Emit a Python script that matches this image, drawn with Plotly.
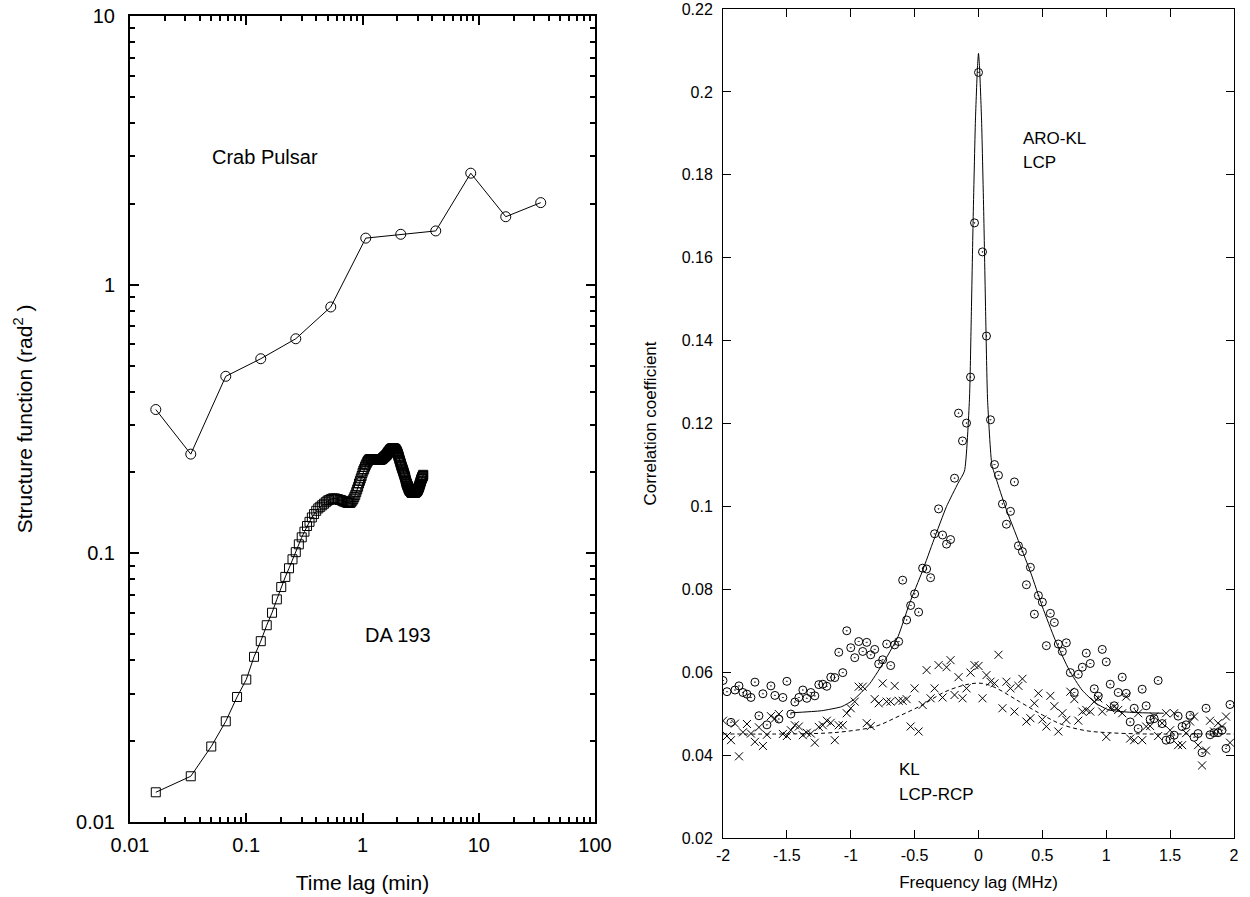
import numpy as np
import plotly.graph_objects as go

FONT = "Liberation Sans, Arial, Helvetica, sans-serif"

# ---------------- Left panel data ----------------
crab_lag = [0.01667, 0.03333, 0.06667, 0.1333, 0.2667, 0.5333, 1.0667, 2.133, 4.267, 8.533, 17.07, 34.13]
crab_sf = [0.343, 0.234, 0.456, 0.530, 0.629, 0.826, 1.49, 1.54, 1.585, 2.60, 1.79, 2.02]

da_lag = np.arange(1, 201) / 60.0
da_sf = [
    0.0129, 0.0148, 0.0191, 0.0237, 0.0292, 0.0339, 0.0412, 0.0471, 0.054, 0.0601, 0.0674, 0.0749, 0.0817, 0.088, 0.095, 0.101,
    0.108, 0.1147, 0.1204, 0.1264, 0.131, 0.136, 0.140, 0.144,
    0.147, 0.149, 0.151, 0.153, 0.155, 0.157, 0.158, 0.159,
    0.160, 0.160, 0.160, 0.159, 0.159, 0.158, 0.158, 0.157,
    0.156, 0.156, 0.155, 0.1545, 0.154, 0.154, 0.154, 0.155,
    0.157, 0.159, 0.162, 0.165, 0.169, 0.173, 0.177, 0.182,
    0.186, 0.190, 0.194, 0.199, 0.203, 0.206, 0.210, 0.213,
    0.216, 0.219, 0.221, 0.223, 0.224, 0.224, 0.224, 0.224,
    0.224, 0.223, 0.223, 0.223, 0.223, 0.223, 0.223, 0.223,
    0.223, 0.223, 0.223, 0.223, 0.223, 0.223, 0.224, 0.224,
    0.225, 0.226, 0.227, 0.228, 0.229, 0.230, 0.231, 0.232,
    0.233, 0.235, 0.236, 0.238, 0.239, 0.240, 0.242, 0.243,
    0.244, 0.245, 0.245, 0.246, 0.246, 0.246, 0.246, 0.246,
    0.245, 0.245, 0.244, 0.243, 0.241, 0.240, 0.238, 0.236,
    0.234, 0.231, 0.229, 0.226, 0.223, 0.221, 0.218, 0.216,
    0.213, 0.211, 0.209, 0.207, 0.205, 0.203, 0.201, 0.199,
    0.197, 0.195, 0.193, 0.191, 0.188, 0.186, 0.184, 0.182,
    0.181, 0.179, 0.178, 0.177, 0.175, 0.174, 0.173, 0.172,
    0.171, 0.171, 0.170, 0.170, 0.169, 0.169, 0.168, 0.168,
    0.168, 0.168, 0.168, 0.168, 0.168, 0.168, 0.168, 0.168,
    0.168, 0.168, 0.169, 0.169, 0.169, 0.170, 0.170, 0.170,
    0.171, 0.172, 0.172, 0.173, 0.174, 0.175, 0.176, 0.177,
    0.178, 0.180, 0.181, 0.182, 0.184, 0.185, 0.186, 0.188,
    0.189, 0.190, 0.191, 0.192, 0.193, 0.194, 0.195, 0.196,
]

left_xticks = [0.01, 0.1, 1, 10, 100]
left_xticktext = ["0.01", "0.1", "1", "10", "100"]
left_yticks = [0.01, 0.1, 1, 10]
left_yticktext = ["0.01", "0.1", "1", "10"]

# ---------------- Right panel data ----------------
freq_lag = -2 + np.arange(128) / 32.0
aro_kl_lcp = [
    0.0580, 0.0553, 0.0479, 0.0557, 0.0567, 0.0551, 0.0547, 0.0539, 0.0576, 0.0495,
    0.0548, 0.0473, 0.0567, 0.0544, 0.0487, 0.0539, 0.0578, 0.0499, 0.0528, 0.0539,
    0.0557, 0.0537, 0.0551, 0.0543, 0.0570, 0.0571, 0.0566, 0.0588, 0.0587, 0.0648,
    0.0599, 0.0700, 0.0659, 0.0635, 0.0674, 0.0650, 0.0672, 0.0642, 0.0655, 0.0620,
    0.0630, 0.0668, 0.0616, 0.0666, 0.0674, 0.0822, 0.0726, 0.0761, 0.0789, 0.0745,
    0.0851, 0.0849, 0.0828, 0.0934, 0.0994, 0.0931, 0.0909, 0.0920, 0.1068, 0.1225,
    0.1158, 0.1201, 0.1312, 0.1684, 0.2047, 0.1614, 0.1411, 0.1209, 0.1101, 0.1075,
    0.1006, 0.0957, 0.0988, 0.1059, 0.0905, 0.0891, 0.0811, 0.0853, 0.0740, 0.0785,
    0.0769, 0.0664, 0.0742, 0.0720, 0.0668, 0.0650, 0.0671, 0.0599, 0.0551, 0.0595,
    0.0612, 0.0646, 0.0621, 0.0560, 0.0542, 0.0655, 0.0625, 0.0571, 0.0519, 0.0551,
    0.0588, 0.0549, 0.0480, 0.0513, 0.0464, 0.0559, 0.0519, 0.0486, 0.0488, 0.0580,
    0.0476, 0.0436, 0.0438, 0.0448, 0.0494, 0.0469, 0.0473, 0.0496, 0.0443, 0.0452,
    0.0406, 0.0513, 0.0449, 0.0454, 0.0454, 0.0460, 0.0416, 0.0522,
]
kl_lcp_rcp = [
    0.0483, 0.0446, 0.0436, 0.0476, 0.0397, 0.0455, 0.0475, 0.0452, 0.0432, 0.0467,
    0.0422, 0.0449, 0.0494, 0.0488, 0.0499, 0.0451, 0.0446, 0.0460, 0.0472, 0.0469,
    0.0448, 0.0454, 0.0452, 0.0430, 0.0468, 0.0472, 0.0483, 0.0478, 0.0436, 0.0472,
    0.0472, 0.0501, 0.0513, 0.0529, 0.0565, 0.0565, 0.0477, 0.0470, 0.0535, 0.0525,
    0.0573, 0.0529, 0.0529, 0.0567, 0.0531, 0.0531, 0.0535, 0.0469, 0.0561, 0.0457,
    0.0521, 0.0605, 0.0537, 0.0561, 0.0617, 0.0539, 0.0612, 0.0629, 0.0545, 0.0588,
    0.0537, 0.0561, 0.0599, 0.0617, 0.0615, 0.0537, 0.0593, 0.0577, 0.0573, 0.0642,
    0.0513, 0.0577, 0.0561, 0.0505, 0.0567, 0.0584, 0.0481, 0.0489, 0.0525, 0.0549,
    0.0486, 0.0469, 0.0543, 0.0518, 0.0457, 0.0501, 0.0485, 0.0553, 0.0535, 0.0483,
    0.0505, 0.0509, 0.0505, 0.0529, 0.0537, 0.0505, 0.0444, 0.0513, 0.0517, 0.0509,
    0.0501, 0.0541, 0.0440, 0.0436, 0.0501, 0.0436, 0.0469, 0.0470, 0.0493, 0.0446,
    0.0477, 0.0501, 0.0460, 0.0501, 0.0424, 0.0424, 0.0453, 0.0481, 0.0493, 0.0424,
    0.0375, 0.0411, 0.0483, 0.0457, 0.0477, 0.0469, 0.0493, 0.0430,
]

# fitted curves
fit_lcp_x = [-1.47, -1.23, -1.07, -0.98, -0.85, -0.73, -0.63, -0.54, -0.44, -0.35, -0.25, -0.16,
             -0.11, -0.071, -0.057, -0.042, -0.024, -0.008, 0.0, 0.008, 0.024, 0.042, 0.057, 0.071,
             0.105, 0.14, 0.21, 0.32, 0.41, 0.50, 0.60, 0.71, 0.81, 0.92, 1.02, 1.2, 1.45]
fit_lcp_y = [0.0502, 0.0507, 0.0517, 0.0533, 0.0573, 0.0630, 0.0686, 0.0766, 0.0843, 0.0919, 0.1000, 0.1056,
             0.1085, 0.1257, 0.1450, 0.1691, 0.1932, 0.2060, 0.2093, 0.2060, 0.1932, 0.1691, 0.1450, 0.1257,
             0.1100, 0.1065, 0.0999, 0.0911, 0.0839, 0.0758, 0.0678, 0.0605, 0.0557, 0.0525, 0.0509, 0.0503, 0.0501]

fit_rcp_x = [-2.0, -1.5, -1.2, -1.04, -0.81, -0.63, -0.44, -0.26, -0.08, 0.03, 0.13, 0.32, 0.5, 0.66, 0.84, 1.02, 1.3, 1.6, 2.0]
fit_rcp_y = [0.0451, 0.0451, 0.0453, 0.0457, 0.0469, 0.0493, 0.0521, 0.0553, 0.0571, 0.0573, 0.0563, 0.0529,
             0.0497, 0.0473, 0.0459, 0.0454, 0.0451, 0.0451, 0.0451]

right_xticks = [-2, -1.5, -1, -0.5, 0, 0.5, 1, 1.5, 2]
right_xticktext = ["-2", "-1.5", "-1", "-0.5", "0", "0.5", "1", "1.5", "2"]
right_yticks = [0.02, 0.04, 0.06, 0.08, 0.10, 0.12, 0.14, 0.16, 0.18, 0.20, 0.22]
right_yticktext = ["0.02", "0.04", "0.06", "0.08", "0.1", "0.12", "0.14", "0.16", "0.18", "0.2", "0.22"]

fig = go.Figure()

# Left panel
fig.add_trace(go.Scatter(x=crab_lag, y=crab_sf, mode="lines+markers", xaxis="x", yaxis="y",
                         line=dict(color="black", width=1),
                         marker=dict(symbol="circle-open", size=10, color="black", line=dict(width=1)),
                         showlegend=False))
fig.add_trace(go.Scatter(x=da_lag, y=da_sf, mode="lines+markers", xaxis="x", yaxis="y",
                         line=dict(color="black", width=1),
                         marker=dict(symbol="square-open", size=9, color="black", line=dict(width=1)),
                         showlegend=False))

# Right panel
fig.add_trace(go.Scatter(x=fit_lcp_x, y=fit_lcp_y, mode="lines", xaxis="x2", yaxis="y2",
                         line=dict(color="black", width=1, shape="spline", smoothing=0.5), showlegend=False))
fig.add_trace(go.Scatter(x=fit_rcp_x, y=fit_rcp_y, mode="lines", xaxis="x2", yaxis="y2",
                         line=dict(color="black", width=1, dash="4px,3px", shape="spline"), showlegend=False))
fig.add_trace(go.Scatter(x=freq_lag, y=aro_kl_lcp, mode="markers", xaxis="x2", yaxis="y2",
                         marker=dict(symbol="circle-open-dot", size=8, color="black", line=dict(width=1)),
                         showlegend=False))
fig.add_trace(go.Scatter(x=freq_lag, y=kl_lcp_rcp, mode="markers", xaxis="x2", yaxis="y2",
                         marker=dict(symbol="x-thin-open", size=8, color="black", line=dict(width=1)),
                         showlegend=False))

W, H = 1250, 897
Lx0, Lx1 = 130, 595
Ly0, Ly1 = 16, 822
Rx0, Rx1 = 723, 1234
Ry0, Ry1 = 9, 838

def minor_log(lo, hi):
    vals = []
    for e in range(lo, hi):
        for m in range(2, 10):
            vals.append(m * 10 ** e)
    return vals

common_axis = dict(showline=True, linecolor="black", mirror="ticks", ticks="inside",
                   tickcolor="black", showgrid=False, zeroline=False)

fig.update_layout(
    width=W, height=H,
    margin=dict(l=0, r=0, t=0, b=0),
    paper_bgcolor="white", plot_bgcolor="white",
    font=dict(family=FONT, color="black"),
    xaxis=dict(type="log", range=[-2, 2], domain=[Lx0 / W, Lx1 / W], anchor="y",
               tickvals=left_xticks, ticktext=left_xticktext, ticklen=9, tickwidth=1.5, linewidth=2,
               minor=dict(tickvals=minor_log(-2, 2), ticks="inside", ticklen=5, tickcolor="black", tickwidth=1.5),
               tickfont=dict(size=20), automargin=False, ticklabelstandoff=4,
               title=dict(text="Time lag (min)", font=dict(size=21), standoff=20),
               **common_axis),
    yaxis=dict(type="log", range=[-2, 1], domain=[1 - Ly1 / H, 1 - Ly0 / H], anchor="x",
               tickvals=left_yticks, ticktext=left_yticktext, ticklen=9, tickwidth=1.5, linewidth=2,
               minor=dict(tickvals=minor_log(-2, 1), ticks="inside", ticklen=5, tickcolor="black", tickwidth=1.5),
               tickfont=dict(size=20), automargin=False, ticklabelstandoff=9,
               title=dict(text="Structure function (rad<sup>2</sup> )", font=dict(size=21), standoff=38),
               **common_axis),
    xaxis2=dict(range=[-2, 2], domain=[Rx0 / W, Rx1 / W], anchor="y2",
                tickvals=right_xticks, ticktext=right_xticktext, ticklen=8, tickwidth=1, linewidth=1,
                tickfont=dict(size=16), automargin=False, ticklabelstandoff=3,
                title=dict(text="Frequency lag (MHz)", font=dict(size=17), standoff=12),
                **common_axis),
    yaxis2=dict(range=[0.02, 0.22], domain=[1 - Ry1 / H, 1 - Ry0 / H], anchor="x2",
                tickvals=right_yticks, ticktext=right_yticktext, ticklen=8, tickwidth=1, linewidth=1,
                tickfont=dict(size=16), automargin=False, ticklabelstandoff=6,
                title=dict(text="Correlation coefficient", font=dict(size=17), standoff=20),
                **common_axis),
    annotations=[
        dict(text="Crab Pulsar", x=np.log10(0.049), y=np.log10(2.98), xref="x", yref="y",
             xanchor="left", yanchor="middle", showarrow=False, font=dict(size=20)),
        dict(text="DA 193", x=np.log10(1.0), y=np.log10(0.0496), xref="x", yref="y",
             xanchor="left", yanchor="middle", showarrow=False, font=dict(size=20)),
        dict(text="ARO-KL", x=0.336, y=0.1888, xref="x2", yref="y2",
             xanchor="left", yanchor="middle", showarrow=False, font=dict(size=17)),
        dict(text="LCP", x=0.336, y=0.183, xref="x2", yref="y2",
             xanchor="left", yanchor="middle", showarrow=False, font=dict(size=17)),
        dict(text="KL", x=-0.638, y=0.0366, xref="x2", yref="y2",
             xanchor="left", yanchor="middle", showarrow=False, font=dict(size=17)),
        dict(text="LCP-RCP", x=-0.638, y=0.0306, xref="x2", yref="y2",
             xanchor="left", yanchor="middle", showarrow=False, font=dict(size=17)),
    ],
)

# remove the default page margin so the figure sits at the window origin
fig.write_html("out.html", config={"displayModeBar": False},
               post_script="document.body.style.margin='0px';")
